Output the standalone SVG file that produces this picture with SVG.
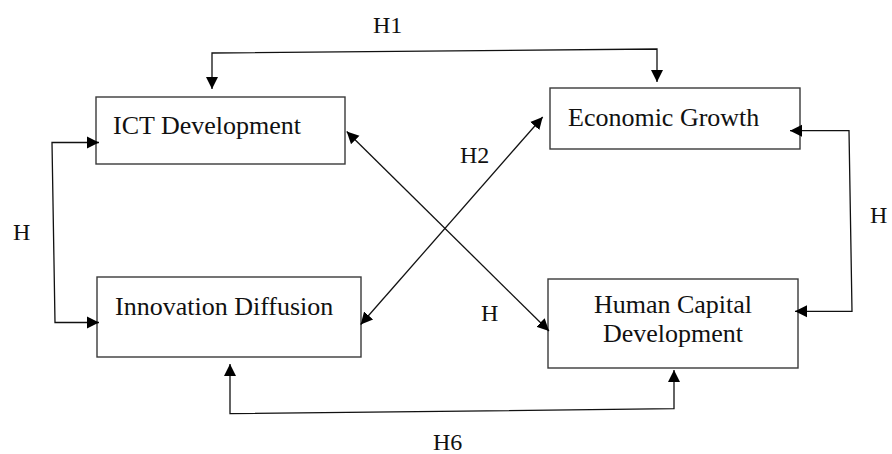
<svg xmlns="http://www.w3.org/2000/svg" width="892" height="454" viewBox="0 0 892 454">
  <style>
    .box { fill: #ffffff; stroke: #3a3a3a; stroke-width: 1.4; }
    .txt { font-family: "Liberation Serif", "Times New Roman", serif; font-size: 26px; fill: #111; }
    .lbl { font-family: "Liberation Serif", "Times New Roman", serif; font-size: 24px; fill: #111; }
    .con { fill: none; stroke: #111; stroke-width: 1.3; }
  </style>
  <defs>
    <marker id="arr" markerUnits="userSpaceOnUse" markerWidth="14" markerHeight="14" viewBox="0 0 14 14" refX="12" refY="7" orient="auto-start-reverse">
      <path d="M0,1 L12,7 L0,13 Z" fill="#000"/>
    </marker>
  </defs>
  <rect width="892" height="454" fill="#ffffff"/>

  <g id="ict">
    <rect class="box" x="96" y="97" width="249" height="67"/>
    <text class="txt" x="113" y="134">ICT Development</text>
  </g>
  <g id="economic">
    <rect class="box" x="550" y="88" width="250" height="61"/>
    <text class="txt" x="568" y="126">Economic Growth</text>
  </g>
  <g id="innovation">
    <rect class="box" x="97" y="277" width="264" height="80"/>
    <text class="txt" x="115" y="315">Innovation Diffusion</text>
  </g>
  <g id="human">
    <rect class="box" x="548" y="279" width="250" height="89"/>
    <text class="txt" x="673" y="313" text-anchor="middle">Human Capital</text>
    <text class="txt" x="673" y="342" text-anchor="middle">Development</text>
  </g>

  <g id="connectors">
    <!-- H1 -->
    <polyline class="con" points="212,89 212,53 657,49 657,82" marker-start="url(#arr)" marker-end="url(#arr)"/>
    <!-- left H -->
    <polyline class="con" points="99,142.5 52,142.5 55,322.5 99,322.5" marker-start="url(#arr)" marker-end="url(#arr)"/>
    <!-- right H -->
    <polyline class="con" points="790,130.7 849,130.7 852,311.3 795,311.3" marker-start="url(#arr)" marker-end="url(#arr)"/>
    <!-- H6 -->
    <polyline class="con" points="230,364 230,413.7 674,408.7 674,370" marker-start="url(#arr)" marker-end="url(#arr)"/>
    <!-- ICT <-> Human Capital -->
    <line class="con" x1="346.7" y1="131.5" x2="549" y2="331" marker-start="url(#arr)" marker-end="url(#arr)"/>
    <!-- Innovation <-> Economic Growth -->
    <line class="con" x1="360.7" y1="324.5" x2="542.7" y2="117" marker-start="url(#arr)" marker-end="url(#arr)"/>
  </g>

  <g id="labels">
    <text class="lbl" x="373" y="33">H1</text>
    <text class="lbl" x="460" y="163">H2</text>
    <text class="lbl" x="481" y="321">H</text>
    <text class="lbl" x="13" y="240">H</text>
    <text class="lbl" x="870" y="223">H</text>
    <text class="lbl" x="433" y="450">H6</text>
  </g>
</svg>
